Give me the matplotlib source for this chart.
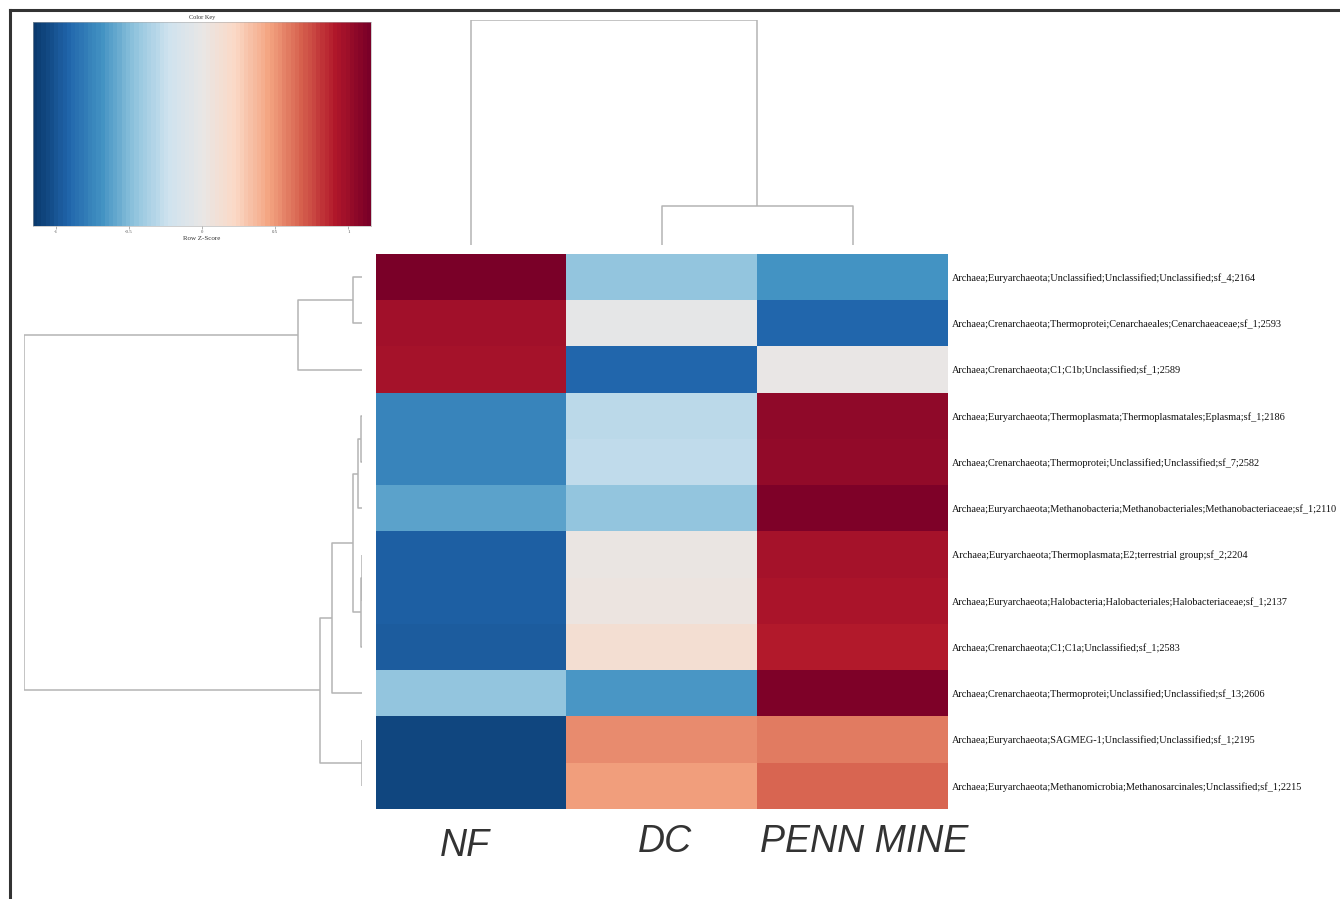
import numpy as np
import matplotlib
matplotlib.use("Agg")
import matplotlib.pyplot as plt
from matplotlib.lines import Line2D
from matplotlib.colors import LinearSegmentedColormap
from matplotlib.transforms import ScaledTranslation

# ---------------- data ----------------
samples = ["NF", "DC", "PENN MINE"]
taxa = [
    "Archaea;Euryarchaeota;Unclassified;Unclassified;Unclassified;sf_4;2164",
    "Archaea;Crenarchaeota;Thermoprotei;Cenarchaeales;Cenarchaeaceae;sf_1;2593",
    "Archaea;Crenarchaeota;C1;C1b;Unclassified;sf_1;2589",
    "Archaea;Euryarchaeota;Thermoplasmata;Thermoplasmatales;Eplasma;sf_1;2186",
    "Archaea;Crenarchaeota;Thermoprotei;Unclassified;Unclassified;sf_7;2582",
    "Archaea;Euryarchaeota;Methanobacteria;Methanobacteriales;Methanobacteriaceae;sf_1;2110",
    "Archaea;Euryarchaeota;Thermoplasmata;E2;terrestrial group;sf_2;2204",
    "Archaea;Euryarchaeota;Halobacteria;Halobacteriales;Halobacteriaceae;sf_1;2137",
    "Archaea;Crenarchaeota;C1;C1a;Unclassified;sf_1;2583",
    "Archaea;Crenarchaeota;Thermoprotei;Unclassified;Unclassified;sf_13;2606",
    "Archaea;Euryarchaeota;SAGMEG-1;Unclassified;Unclassified;sf_1;2195",
    "Archaea;Euryarchaeota;Methanomicrobia;Methanosarcinales;Unclassified;sf_1;2215",
]
z_nf = [1.15, 0.99, 0.97, -0.76, -0.76, -0.62, -0.95, -0.95, -0.97, -0.46, -1.09, -1.09]
z_dc = [-0.46, -0.03, -0.92, -0.30, -0.28, -0.46, 0.02, 0.04, 0.14, -0.67, 0.55, 0.48]
z_penn = [-0.69, -0.92, 0.00, 1.06, 1.05, 1.13, 0.97, 0.95, 0.92, 1.13, 0.60, 0.67]

# row dendrogram merges (child_a, child_b, height); leaves 0..11 in display order
row_merges = [
    (0, 1, 9.3), (12, 2, 63.7), (3, 4, 0.5), (14, 5, 3.7), (6, 7, 0.3),
    (16, 8, 0.6), (15, 17, 8.7), (18, 9, 30.3), (10, 11, 0.3),
    (19, 20, 42.0), (13, 21, 337.7),
]
# column dendrogram merges
col_merges = [(1, 2, 39.3), (0, 3, 225.0)]

key_ticks = [-1, -0.5, 0, 0.5, 1]
zlim = 1.155

# ---------------- layout helpers ----------------
W, H = 1340, 899
fig = plt.figure(figsize=(W / 100, H / 100), dpi=100)
fig.patch.set_facecolor("white")


def px_axes(x0, y0, x1, y1):
    return fig.add_axes([x0 / W, 1 - y1 / H, (x1 - x0) / W, (y1 - y0) / H])


cmap = LinearSegmentedColormap.from_list("rdbu_key", [
    "#0a3a6e", "#2166ac", "#4393c3", "#92c5de", "#cfe3ef", "#e9e7e6",
    "#fbd9c6", "#f4a582", "#d6604d", "#b2182b", "#7a0028"], N=256)
dcol = "#b4b4b4"

# ---------------- heatmap ----------------
data = np.column_stack([z_nf, z_dc, z_penn])
nrow, ncol = data.shape
ax = px_axes(376, 254, 948, 809)
ax.imshow(data, cmap=cmap, vmin=-zlim, vmax=zlim, aspect="auto",
          interpolation="nearest", extent=(0, ncol, nrow, 0))
ax.set_xlim(0, ncol)
ax.set_ylim(nrow, 0)
for s in ax.spines.values():
    s.set_visible(False)
ax.set_xticks([])
ax.yaxis.tick_right()
ax.set_yticks(np.arange(nrow) + 0.5)
ax.set_yticklabels(taxa, fontsize=7.4, family="Liberation Serif", color="#111111")
ax.tick_params(axis="y", length=0, pad=3)

# column labels (small per-label pixel nudges as in the original)
label_nudge_px = [(-6, -4), (3, 0), (12, 0)]
for j, (name, (dx, dy)) in enumerate(zip(samples, label_nudge_px)):
    tr = ax.get_xaxis_transform() + ScaledTranslation(dx / 100, dy / 100,
                                                      fig.dpi_scale_trans)
    ax.text(j + 0.5, -0.06, name, transform=tr, ha="center", va="center",
            fontsize=27, style="italic", color="#333333", family="Liberation Sans")


# ---------------- dendrograms ----------------
def dendro_coords(merges, n):
    pos = {i: i + 0.5 for i in range(n)}
    hgt = {i: 0.0 for i in range(n)}
    segs = []
    for k, (a, b, h) in enumerate(merges):
        node = n + k
        segs.append(([pos[a], pos[a], pos[b], pos[b]], [hgt[a], h, h, hgt[b]]))
        pos[node] = (pos[a] + pos[b]) / 2
        hgt[node] = h
    return segs


# row dendrogram (left)
axr = px_axes(24, 254, 362, 809)
for p, h in dendro_coords(row_merges, nrow):
    axr.plot(h, p, color=dcol, lw=1.1, solid_capstyle="butt")
axr.set_xlim(row_merges[-1][2], 0)
axr.set_ylim(nrow, 0)
axr.axis("off")

# column dendrogram (top)
axc = px_axes(376, 20, 948, 245)
for p, h in dendro_coords(col_merges, ncol):
    axc.plot(p, h, color=dcol, lw=1.1, solid_capstyle="butt")
axc.set_xlim(0, ncol)
axc.set_ylim(0, col_merges[-1][2])
axc.axis("off")

# ---------------- colour key ----------------
axk = px_axes(33, 22, 371, 226)
kv = np.linspace(-zlim, zlim, 80)
axk.imshow(kv[np.newaxis, :], cmap=cmap, vmin=-zlim, vmax=zlim, aspect="auto",
           interpolation="nearest", extent=(-zlim, zlim, 0, 1))
axk.set_xlim(-zlim, zlim)
axk.set_yticks([])
axk.set_xticks(key_ticks)
axk.set_xticklabels([str(t) for t in key_ticks], fontsize=3.5, color="#555555",
                    family="Liberation Serif")
axk.tick_params(axis="x", length=2, width=0.4, pad=1, color="#777777")
axk.set_xlabel("Row Z-Score", fontsize=5, family="Liberation Serif",
               color="#333333", labelpad=1)
axk.set_title("Color Key", fontsize=4.5, family="Liberation Serif",
              color="#333333", pad=2)
for s in axk.spines.values():
    s.set_linewidth(0.4)
    s.set_color("#aaaaaa")

# ---------------- frame lines ----------------
fig.add_artist(Line2D([10 / W, 1.0], [1 - 10 / H, 1 - 10 / H],
                      transform=fig.transFigure, color="#333333", lw=2.2))
fig.add_artist(Line2D([10 / W, 10 / W], [1 - 10 / H, 0.0],
                      transform=fig.transFigure, color="#333333", lw=2.2))

fig.savefig("out.png", dpi=100, facecolor="white")
